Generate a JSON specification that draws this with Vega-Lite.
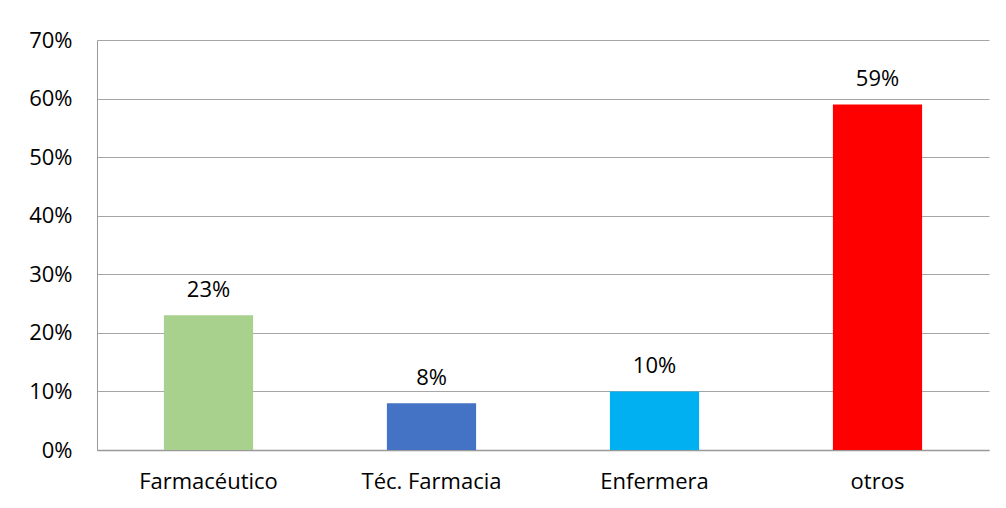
{
  "$schema": "https://vega.github.io/schema/vega-lite/v6.json",
  "width": 892,
  "height": 410,
  "autosize": "none",
  "padding": {"left": 97, "top": 40, "right": 17, "bottom": 58},
  "background": "white",
  "config": {
    "view": {"stroke": null},
    "font": "Open Sans"
  },
  "data": {
    "values": [
      {"categoria": "Farmacéutico", "valor": 0.23, "color": "#A9D18E"},
      {"categoria": "Téc. Farmacia", "valor": 0.08, "color": "#4472C4"},
      {"categoria": "Enfermera", "valor": 0.10, "color": "#00B0F0"},
      {"categoria": "otros", "valor": 0.59, "color": "#FF0000"}
    ]
  },
  "encoding": {
    "x": {
      "field": "categoria",
      "type": "nominal",
      "sort": null,
      "scale": {"paddingInner": 0.6, "paddingOuter": 0.3},
      "axis": {
        "title": null,
        "labelAngle": 0,
        "labelFontSize": 22,
        "labelColor": "#000000",
        "labelPadding": 21,
        "ticks": false,
        "domainColor": "#999999",
        "domainWidth": 1.5
      }
    },
    "y": {
      "field": "valor",
      "type": "quantitative",
      "scale": {"domain": [0, 0.7]},
      "axis": {
        "title": null,
        "format": ".0%",
        "values": [0, 0.1, 0.2, 0.3, 0.4, 0.5, 0.6, 0.7],
        "labelFontSize": 22,
        "labelColor": "#000000",
        "labelPadding": 25,
        "ticks": false,
        "grid": true,
        "gridColor": "#a6a6a6",
        "gridWidth": 1,
        "domainColor": "#999999",
        "domainWidth": 1
      }
    }
  },
  "layer": [
    {
      "mark": {"type": "bar"},
      "encoding": {
        "color": {"field": "color", "type": "nominal", "scale": null}
      }
    },
    {
      "mark": {"type": "text", "baseline": "bottom", "dy": -13, "fontSize": 22, "color": "#000000"},
      "encoding": {
        "text": {"field": "valor", "type": "quantitative", "format": ".0%"}
      }
    }
  ]
}
